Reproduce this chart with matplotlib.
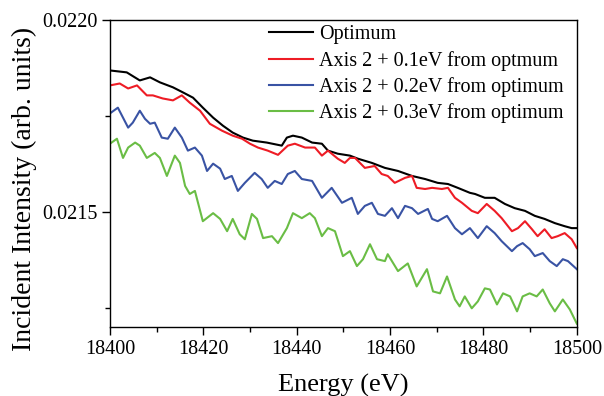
import matplotlib
matplotlib.use("Agg")
import matplotlib.pyplot as plt
from matplotlib.ticker import MultipleLocator, FormatStrFormatter

plt.rcParams['font.family'] = ['Liberation Serif', 'DejaVu Serif']
plt.rcParams['mathtext.fontset'] = 'stix'

labels = ["Optimum", "Axis 2 + 0.1eV from optmum",
          "Axis 2 + 0.2eV from optimum", "Axis 2 + 0.3eV from optimum"]
colors = ["#000000", "#ee1c25", "#3953a4", "#6abd45"]

e_opt = [18400.0, 18403.6, 18406.4, 18408.6, 18410.7, 18413.5, 18415.6, 18417.8, 18419.9, 18422.1,
         18424.2, 18426.3, 18428.5, 18430.6, 18433.6, 18436.8, 18437.9, 18439.2, 18441.1, 18443.3,
         18445.4, 18446.7, 18448.8, 18451.4, 18453.1, 18456.1, 18458.9, 18461.7, 18464.7, 18467.5,
         18470.2, 18472.4, 18474.5, 18477.1, 18478.2, 18480.3, 18482.4, 18484.6, 18486.7, 18488.9,
         18491.0, 18493.1, 18495.3, 18497.4, 18498.9, 18500.0]
i_opt = [0.021869, 0.021864, 0.021843, 0.021851, 0.021838, 0.021825, 0.021812, 0.021798, 0.021772, 0.021746,
         0.021725, 0.021707, 0.021694, 0.021686, 0.021681, 0.021673, 0.021694, 0.021699, 0.021694, 0.021681,
         0.021678, 0.021660, 0.021652, 0.021647, 0.021639, 0.021628, 0.021615, 0.021607, 0.021594, 0.021586,
         0.021576, 0.021573, 0.021563, 0.021550, 0.021547, 0.021537, 0.021537, 0.021521, 0.021510, 0.021503,
         0.021490, 0.021482, 0.021471, 0.021463, 0.021458, 0.021458]

e_01 = [18400.0, 18402.1, 18403.9, 18405.8, 18407.9, 18409.2, 18411.3, 18413.5, 18415.4, 18417.1,
        18419.3, 18421.4, 18424.0, 18426.3, 18428.3, 18430.0, 18431.7, 18433.8, 18436.0, 18438.1,
        18439.6, 18441.8, 18443.9, 18445.4, 18446.7, 18448.8, 18450.3, 18451.4, 18452.5, 18454.6,
        18456.7, 18458.2, 18459.5, 18461.0, 18463.2, 18464.7, 18465.7, 18467.5, 18469.0, 18471.1,
        18472.4, 18473.9, 18475.4, 18477.5, 18478.8, 18480.7, 18482.4, 18483.9, 18486.1, 18487.4,
        18488.9, 18490.4, 18491.6, 18493.1, 18494.6, 18495.9, 18497.4, 18498.9, 18500.0]
i_01 = [0.021830, 0.021835, 0.021822, 0.021830, 0.021804, 0.021804, 0.021796, 0.021791, 0.021804, 0.021785,
        0.021764, 0.021730, 0.021712, 0.021699, 0.021691, 0.021678, 0.021668, 0.021660, 0.021649, 0.021673,
        0.021678, 0.021668, 0.021668, 0.021647, 0.021660, 0.021639, 0.021628, 0.021641, 0.021641, 0.021615,
        0.021620, 0.021599, 0.021594, 0.021576, 0.021589, 0.021594, 0.021563, 0.021560, 0.021563, 0.021560,
        0.021563, 0.021537, 0.021524, 0.021503, 0.021497, 0.021521, 0.021503, 0.021484, 0.021450, 0.021458,
        0.021476, 0.021455, 0.021437, 0.021455, 0.021432, 0.021437, 0.021445, 0.021429, 0.021406]

e_02 = [18400.0, 18401.7, 18403.9, 18404.9, 18406.4, 18407.5, 18408.6, 18409.6, 18411.1, 18412.4,
        18413.9, 18415.4, 18416.7, 18418.2, 18419.7, 18420.8, 18422.1, 18423.6, 18424.6, 18426.1,
        18427.4, 18428.9, 18431.0, 18432.5, 18433.8, 18435.3, 18436.8, 18438.1, 18439.6, 18441.1,
        18443.3, 18445.4, 18447.5, 18449.7, 18451.8, 18453.1, 18454.6, 18456.1, 18457.4, 18458.9,
        18460.4, 18461.7, 18463.2, 18464.7, 18466.0, 18468.1, 18469.0, 18470.2, 18472.2, 18473.9,
        18475.4, 18477.1, 18478.8, 18480.7, 18482.4, 18483.9, 18486.1, 18487.2, 18488.4, 18489.9,
        18491.0, 18492.7, 18494.2, 18495.7, 18497.0, 18498.1, 18500.0]
i_02 = [0.021757, 0.021772, 0.021720, 0.021733, 0.021764, 0.021743, 0.021730, 0.021733, 0.021694, 0.021691,
        0.021720, 0.021694, 0.021660, 0.021668, 0.021647, 0.021607, 0.021626, 0.021613, 0.021586, 0.021594,
        0.021555, 0.021576, 0.021602, 0.021586, 0.021563, 0.021581, 0.021573, 0.021599, 0.021607, 0.021586,
        0.021581, 0.021537, 0.021563, 0.021524, 0.021537, 0.021495, 0.021516, 0.021524, 0.021495, 0.021490,
        0.021510, 0.021484, 0.021516, 0.021510, 0.021495, 0.021508, 0.021482, 0.021476, 0.021490, 0.021458,
        0.021442, 0.021458, 0.021432, 0.021463, 0.021445, 0.021424, 0.021398, 0.021411, 0.021419, 0.021403,
        0.021385, 0.021393, 0.021372, 0.021359, 0.021377, 0.021372, 0.021351]

e_03 = [18400.0, 18401.5, 18402.8, 18403.9, 18405.4, 18406.4, 18407.9, 18409.6, 18410.7, 18412.2,
        18413.9, 18415.0, 18416.1, 18417.1, 18418.2, 18419.9, 18422.1, 18423.6, 18425.1, 18426.3,
        18427.8, 18428.9, 18430.4, 18431.5, 18432.8, 18434.7, 18436.0, 18437.9, 18439.2, 18441.1,
        18442.8, 18443.9, 18445.4, 18446.7, 18448.2, 18449.9, 18451.4, 18452.9, 18454.2, 18455.7,
        18457.2, 18458.9, 18459.5, 18461.7, 18463.8, 18465.7, 18467.9, 18469.2, 18470.7, 18472.2,
        18473.9, 18474.9, 18476.0, 18477.5, 18478.8, 18480.3, 18481.4, 18482.9, 18484.2, 18485.7,
        18487.2, 18488.4, 18489.9, 18491.4, 18492.7, 18494.2, 18495.3, 18497.0, 18498.5, 18500.0]
i_03 = [0.021678, 0.021691, 0.021641, 0.021668, 0.021681, 0.021673, 0.021641, 0.021654, 0.021641, 0.021594,
        0.021647, 0.021628, 0.021568, 0.021547, 0.021555, 0.021476, 0.021497, 0.021482, 0.021450, 0.021482,
        0.021442, 0.021429, 0.021495, 0.021482, 0.021432, 0.021437, 0.021419, 0.021458, 0.021497, 0.021484,
        0.021497, 0.021484, 0.021437, 0.021458, 0.021450, 0.021385, 0.021398, 0.021359, 0.021377, 0.021416,
        0.021377, 0.021372, 0.021390, 0.021346, 0.021366, 0.021306, 0.021351, 0.021293, 0.021288, 0.021332,
        0.021272, 0.021254, 0.021280, 0.021249, 0.021267, 0.021301, 0.021298, 0.021259, 0.021288, 0.021280,
        0.021241, 0.021280, 0.021288, 0.021280, 0.021298, 0.021262, 0.021241, 0.021272, 0.021246, 0.021209]

xticks = [18400, 18420, 18440, 18460, 18480, 18500]
yticks = [0.0215, 0.0220]

fig = plt.figure(figsize=(6.04, 3.96), dpi=100)
ax = fig.add_axes([0.182, 0.174, 0.773, 0.775])

series = [(e_opt, i_opt), (e_01, i_01), (e_02, i_02), (e_03, i_03)]
for (e, i), lab, c in zip(series, labels, colors):
    ax.plot(e, i, color=c, lw=1.5, label=lab)

ax.set_xlim(18400, 18500)
ax.set_ylim(0.0212, 0.0220)
ax.set_xticks(xticks)
ax.set_yticks(yticks)
ax.xaxis.set_minor_locator(MultipleLocator(10))
ax.yaxis.set_minor_locator(MultipleLocator(0.00025))
ax.yaxis.set_major_formatter(FormatStrFormatter('%.4f'))
ax.tick_params(axis='both', which='major', direction='out', length=6, width=1,
               labelsize=14.5, top=False, right=False, pad=3)
ax.tick_params(axis='both', which='minor', direction='out', length=3.5, width=1,
               top=False, right=False)
for s in ax.spines.values():
    s.set_linewidth(1.0)

ax.set_xlabel("Energy (eV)", fontsize=19, labelpad=11)
ax.set_ylabel("Incident Intensity (arb. units)", fontsize=20, labelpad=6)
ax.yaxis.set_label_coords(-0.157, 0.45)

leg = ax.legend(loc='upper right', frameon=False, fontsize=14.5, handlelength=2.2,
                handletextpad=0.3, labelspacing=0.32, borderaxespad=0.0,
                bbox_to_anchor=(0.99, 1.01))

fig.savefig("out.png", dpi=100)
